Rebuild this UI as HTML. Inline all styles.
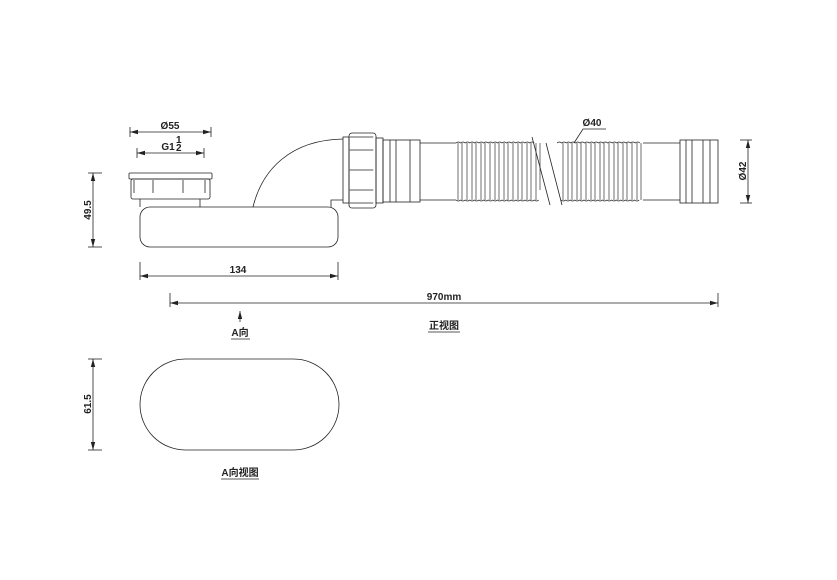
<!DOCTYPE html>
<html><head><meta charset="utf-8"><style>html,body{margin:0;background:#fff}svg{display:block}text{font-family:"Liberation Sans","Noto Sans CJK SC",sans-serif;font-weight:bold;font-size:10px;fill:#222}</style></head><body>
<svg width="837" height="580" viewBox="0 0 837 580" xmlns="http://www.w3.org/2000/svg">
<defs><marker id="a" markerWidth="8" markerHeight="6" refX="8" refY="3" orient="auto-start-reverse" markerUnits="userSpaceOnUse"><path d="M0,0.8L8,3L0,5.2z" fill="#222"/></marker></defs>
<g stroke="#222" stroke-width="0.8" fill="none">
<line x1="130" y1="127" x2="130" y2="137"/><line x1="211" y1="127" x2="211" y2="137"/>
<line x1="130" y1="132" x2="211" y2="132" marker-start="url(#a)" marker-end="url(#a)"/>
<line x1="137" y1="148" x2="137" y2="158"/><line x1="204" y1="148" x2="204" y2="158"/>
<line x1="137" y1="153" x2="204" y2="153" marker-start="url(#a)" marker-end="url(#a)"/>
<line x1="88" y1="173" x2="102" y2="173"/><line x1="88" y1="247" x2="102" y2="247"/>
<line x1="93" y1="173" x2="93" y2="247" marker-start="url(#a)" marker-end="url(#a)"/>
<line x1="140" y1="262" x2="140" y2="280"/><line x1="338" y1="262" x2="338" y2="280"/>
<line x1="140" y1="276" x2="338" y2="276" marker-start="url(#a)" marker-end="url(#a)"/>
<line x1="170" y1="293" x2="170" y2="307"/><line x1="718" y1="293" x2="718" y2="307"/>
<line x1="170" y1="303" x2="718" y2="303" marker-start="url(#a)" marker-end="url(#a)"/>
<line x1="740" y1="140" x2="752" y2="140"/><line x1="740" y1="203" x2="752" y2="203"/>
<line x1="748" y1="140" x2="748" y2="203" marker-start="url(#a)" marker-end="url(#a)"/>
<line x1="240" y1="322" x2="240" y2="311" marker-end="url(#a)"/>
<line x1="88" y1="359" x2="102" y2="359"/><line x1="88" y1="450" x2="102" y2="450"/>
<line x1="93" y1="359" x2="93" y2="450" marker-start="url(#a)" marker-end="url(#a)"/>
<rect x="129" y="173" width="83" height="6" rx="1"/>
<rect x="131" y="179" width="79" height="20" rx="2"/>
<line x1="134" y1="180" x2="134" y2="193"/><line x1="153" y1="180" x2="153" y2="193"/><line x1="183" y1="180" x2="183" y2="193"/><line x1="205" y1="180" x2="205" y2="193"/>
<line x1="140" y1="199" x2="140" y2="207"/><line x1="200" y1="199" x2="200" y2="207"/>
<rect x="140" y="207" width="198" height="40" rx="10"/>
<path d="M253,207 C262,170 290,140 343,139"/>
<path d="M331,207 L331,200 L343,200"/>
<rect x="343" y="137" width="6" height="66"/>
<rect x="349" y="133" width="27" height="75" rx="3"/>
<g stroke-linecap="round"><line x1="350" y1="137" x2="373" y2="137"/><line x1="350" y1="150" x2="373" y2="150"/><line x1="350" y1="170" x2="373" y2="170"/><line x1="350" y1="190" x2="373" y2="190"/><line x1="350" y1="203" x2="373" y2="203"/></g>
<rect x="376" y="138" width="7" height="65"/>
<rect x="383" y="140" width="37" height="62"/>
<line x1="390" y1="140" x2="390" y2="202"/><line x1="396" y1="140" x2="396" y2="202"/><line x1="410" y1="140" x2="410" y2="202"/>
<path d="M420,143 L456,143 M420,200 L456,200"/>
<path d="M643,143 L680,143 M643,200 L680,200"/>
<rect x="680" y="140" width="38" height="63"/>
<line x1="686" y1="140" x2="686" y2="203"/><line x1="692" y1="140" x2="692" y2="203"/><line x1="703" y1="140" x2="703" y2="203"/><line x1="710" y1="140" x2="710" y2="203"/>
<path d="M532,137 L550,205 M546,143 L562,205"/>
<path d="M574,143 L583,129 L606,129"/>
</g>
<g stroke="#222" stroke-width="0.7" fill="none">
<path d="M456,143 q2.3,-2 4.6,0 q2.3,-2 4.6,0 q2.3,-2 4.6,0 q2.3,-2 4.6,0 q2.3,-2 4.6,0 q2.3,-2 4.6,0 q2.3,-2 4.6,0 q2.3,-2 4.6,0 q2.3,-2 4.6,0 q2.3,-2 4.6,0 q2.3,-2 4.6,0 q2.3,-2 4.6,0 q2.3,-2 4.6,0 q2.3,-2 4.6,0 q2.3,-2 4.6,0 q2.3,-2 4.6,0 q2.3,-2 4.6,0"/>
<path d="M456,200 q2.3,2 4.6,0 q2.3,2 4.6,0 q2.3,2 4.6,0 q2.3,2 4.6,0 q2.3,2 4.6,0 q2.3,2 4.6,0 q2.3,2 4.6,0 q2.3,2 4.6,0 q2.3,2 4.6,0 q2.3,2 4.6,0 q2.3,2 4.6,0 q2.3,2 4.6,0 q2.3,2 4.6,0 q2.3,2 4.6,0 q2.3,2 4.6,0 q2.3,2 4.6,0 q2.3,2 4.6,0 q2.3,2 4.6,0"/>
<path d="M557,143 q2.3,-2 4.6,0 q2.3,-2 4.6,0 q2.3,-2 4.6,0 q2.3,-2 4.6,0 q2.3,-2 4.6,0 q2.3,-2 4.6,0 q2.3,-2 4.6,0 q2.3,-2 4.6,0 q2.3,-2 4.6,0 q2.3,-2 4.6,0 q2.3,-2 4.6,0 q2.3,-2 4.6,0 q2.3,-2 4.6,0 q2.3,-2 4.6,0 q2.3,-2 4.6,0 q2.3,-2 4.6,0 q2.3,-2 4.6,0 q2.3,-2 4.6,0"/>
<path d="M561,200 q2.3,2 4.6,0 q2.3,2 4.6,0 q2.3,2 4.6,0 q2.3,2 4.6,0 q2.3,2 4.6,0 q2.3,2 4.6,0 q2.3,2 4.6,0 q2.3,2 4.6,0 q2.3,2 4.6,0 q2.3,2 4.6,0 q2.3,2 4.6,0 q2.3,2 4.6,0 q2.3,2 4.6,0 q2.3,2 4.6,0 q2.3,2 4.6,0 q2.3,2 4.6,0 q2.3,2 4.6,0"/>
</g>
<g stroke="#333" stroke-width="0.7">
<path d="M458,143V200M462,143V200M467,143V200M472,143V200M476,143V200M481,143V200M485,143V200M490,143V200M495,143V200M499,143V200M504,143V200M508,143V200M513,143V200M518,143V200M522,143V200M527,143V200M531,143V200M536,143V200M540,143V190"/>
<path d="M563,143V200M568,143V200M572,143V200M577,143V200M581,143V200M586,143V200M591,143V200M595,143V200M600,143V200M604,143V200M609,143V200M614,143V200M618,143V200M623,143V200M627,143V200M632,143V200M637,143V200M641,143V200"/>
</g>
<rect x="140" y="359" width="199" height="91" rx="45.5" fill="none" stroke="#222" stroke-width="0.8"/>
<text x="170" y="129" text-anchor="middle">Ø55</text>
<text x="168" y="150" text-anchor="middle">G1</text>
<text x="176" y="143" font-size="6">1</text><text x="176" y="151" font-size="6">2</text>
<text x="592" y="126" text-anchor="middle">Ø40</text>
<text x="238" y="273" text-anchor="middle">134</text>
<text x="444" y="300" text-anchor="middle">970mm</text>
<text transform="translate(91,210) rotate(-90)" text-anchor="middle">49.5</text>
<text transform="translate(91,404) rotate(-90)" text-anchor="middle">61.5</text>
<text transform="translate(746,171) rotate(-90)" text-anchor="middle">Ø42</text>
<text x="240" y="336" text-anchor="middle">A向</text>
<line x1="231" y1="339" x2="250" y2="339" stroke="#222" stroke-width="0.8"/>
<text x="444" y="329" text-anchor="middle">正视图</text>
<line x1="428" y1="332" x2="460" y2="332" stroke="#222" stroke-width="0.8"/>
<text x="240" y="476" text-anchor="middle">A向视图</text>
<line x1="221" y1="479" x2="259" y2="479" stroke="#222" stroke-width="0.8"/>
</svg>
</body></html>
